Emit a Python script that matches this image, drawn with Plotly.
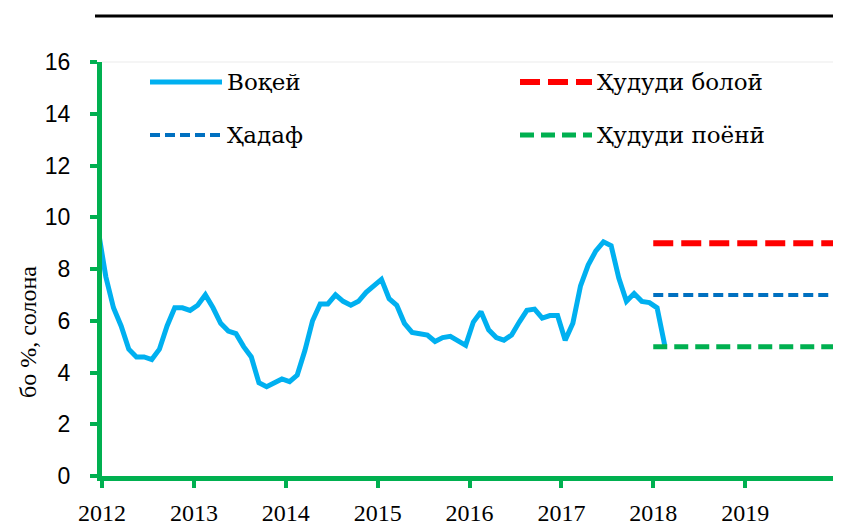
import plotly.graph_objects as go

# ---- data ----
months = ["2011-12"] + [f"{y}-{m:02d}" for y in range(2012, 2018) for m in range(1, 13)] + ["2018-01", "2018-02"]
actual = [9.5,
          7.7, 6.5, 5.8, 4.9, 4.6, 4.6, 4.5, 4.9, 5.8, 6.5, 6.5, 6.4,   # 2012
          6.6, 7.0, 6.5, 5.9, 5.6, 5.5, 5.0, 4.6, 3.6, 3.45, 3.6, 3.75,  # 2013
          3.65, 3.9, 4.85, 6.0, 6.65, 6.65, 7.0, 6.75, 6.6, 6.75, 7.1, 7.35,  # 2014
          7.6, 6.85, 6.6, 5.9, 5.55, 5.5, 5.45, 5.2, 5.35, 5.4, 5.25, 5.05,  # 2015
          5.95, 6.35, 5.65, 5.35, 5.25, 5.45, 5.95, 6.4, 6.45, 6.1, 6.2, 6.2,  # 2016
          5.25, 5.9, 7.35, 8.15, 8.7, 9.05, 8.9, 7.65, 6.75, 7.05, 6.75, 6.7,  # 2017
          6.5, 5.05]  # 2018
target_years = [2018, 2020]
upper_bound = [9, 9]
target = [7, 7]
lower_bound = [5, 5]
year_ticks = [2012, 2013, 2014, 2015, 2016, 2017, 2018, 2019, 2020]
year_labels = ["2012", "2013", "2014", "2015", "2016", "2017", "2018", "2019", ""]
y_ticks = [0, 2, 4, 6, 8, 10, 12, 14, 16]

names = ["Воқей", "Ҳадаф", "Ҳудуди болоӣ", "Ҳудуди поёнӣ"]
y_title = "бо %, солона"

x_actual = [int(s[:4]) + (int(s[5:]) - 0.5) / 12 for s in months]

BLUE_L = "#00B0F0"
BLUE_D = "#0070C0"
RED = "#FF0000"
GREEN = "#00B050"
SERIF = "Liberation Serif"
LEG_FONT = "DejaVu Serif"

fig = go.Figure()
fig.add_trace(go.Scatter(x=x_actual, y=actual, mode="lines", name=names[0],
                         line=dict(color=BLUE_L, width=5)))
fig.add_trace(go.Scatter(x=target_years, y=upper_bound, mode="lines", name=names[2],
                         line=dict(color=RED, width=6, dash="20px,8px")))
fig.add_trace(go.Scatter(x=target_years, y=target, mode="lines", name=names[1],
                         line=dict(color=BLUE_D, width=4, dash="10px,5px")))
fig.add_trace(go.Scatter(x=target_years, y=lower_bound, mode="lines", name=names[3],
                         line=dict(color=GREEN, width=5, dash="14px,7px")))

# page has an 8px body margin; work in page pixel coordinates
OFF = 8
W, H = 841 - OFF, 531 - OFF
PL, PR, PT, PB = 102, 837, 62, 476   # plot area in page pixels
L, R, T, B = PL - OFF, W - (PR - OFF), PT - OFF, H - (PB - OFF)
pw, ph = PR - PL, PB - PT


def px(x):
    return (x - PL) / pw


def py(y):
    return (PB - y) / ph


shapes = [
    # top black rule
    dict(type="line", xref="paper", yref="paper", x0=px(95), x1=px(838), y0=py(16), y1=py(16),
         line=dict(color="black", width=3)),
    # faint plot border (top/right)
    dict(type="line", xref="paper", yref="paper", x0=0, x1=1, y0=1, y1=1,
         line=dict(color="#EBEBEB", width=1)),
    dict(type="line", xref="paper", yref="paper", x0=1, x1=1, y0=0, y1=1,
         line=dict(color="#EBEBEB", width=1)),
]

# manual legend
legend_items = [
    (names[0], BLUE_L, 5, "solid", 150, 82),
    (names[1], BLUE_D, 4, "10px,5px", 150, 135),
    (names[2], RED, 6, "20px,8px", 520, 82),
    (names[3], GREEN, 5, "14px,7px", 520, 135),
]
annotations = []
for name, col, w, dash, lx, ly in legend_items:
    shapes.append(dict(type="line", xref="paper", yref="paper", x0=px(lx), x1=px(lx + 72),
                       y0=py(ly), y1=py(ly), line=dict(color=col, width=w, dash=dash)))
    annotations.append(dict(x=px(lx + 75), y=py(ly), xref="paper", yref="paper", text=name,
                            showarrow=False, xanchor="left", yanchor="middle",
                            font=dict(family=LEG_FONT, size=23, color="black")))

# y-axis title (placed lower than centre, as in the original)
annotations.append(dict(x=px(28), y=py(332), xref="paper", yref="paper", text=y_title,
                        showarrow=False, textangle=-90, xanchor="center", yanchor="middle",
                        font=dict(family=SERIF, size=24, color="black")))

fig.update_layout(
    width=W, height=H,
    margin=dict(l=L, r=R, t=T, b=B, autoexpand=False),
    paper_bgcolor="white", plot_bgcolor="white",
    showlegend=False,
    shapes=shapes, annotations=annotations,
    xaxis=dict(range=[2012, 2020], tickvals=year_ticks, ticktext=year_labels,
               showgrid=False, zeroline=False, showline=True, linecolor=GREEN, linewidth=5,
               ticks="outside", ticklen=7, tickwidth=4, tickcolor=GREEN,
               ticklabelstandoff=4,
               tickfont=dict(family=SERIF, size=24, color="black"), layer="below traces"),
    yaxis=dict(range=[0, 16], tickvals=y_ticks, showgrid=False, zeroline=False,
               showline=True, linecolor=GREEN, linewidth=5,
               ticks="outside", ticklen=7, tickwidth=4, tickcolor=GREEN,
               tickfont=dict(family="Liberation Sans", size=23, color="black"),
               ticklabelstandoff=15,
               layer="below traces"),
)

fig.write_html("out.html")
